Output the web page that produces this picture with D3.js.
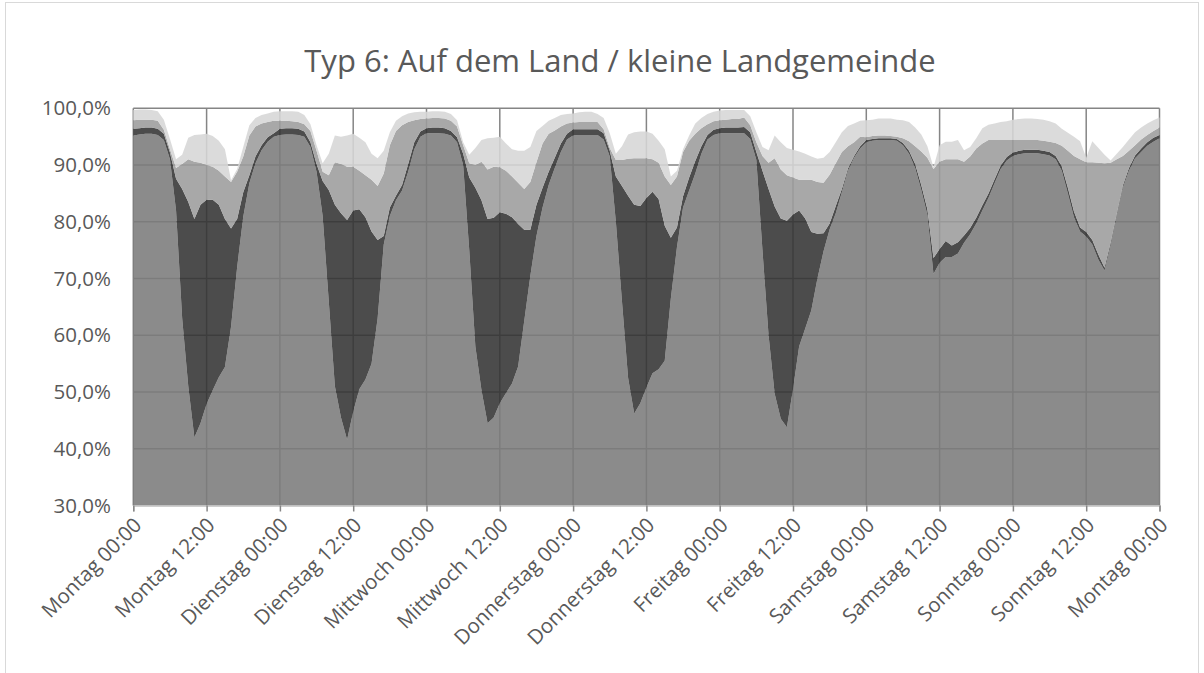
<!DOCTYPE html>
<html lang="de">
<head>
<meta charset="utf-8"/>
<title>Typ 6: Auf dem Land / kleine Landgemeinde</title>
<script src="https://d3js.org/d3.v7.min.js"></script>
<style>
body { margin: 0; background: #fff; }
.title { font-family: "Open Sans", sans-serif; font-size: 31px; fill: #595959; }
.lbl { font-family: "Open Sans", sans-serif; font-size: 20.5px; fill: #595959; }
.grid { stroke: #858585; stroke-width: 1.5; }
</style>
</head>
<body>
<div id="chart"></div>
<script>
// Achsenbeschriftung (alle 12 Stunden)
var tickLabels = ["Montag 00:00", "Montag 12:00", "Dienstag 00:00", "Dienstag 12:00",
  "Mittwoch 00:00", "Mittwoch 12:00", "Donnerstag 00:00", "Donnerstag 12:00",
  "Freitag 00:00", "Freitag 12:00", "Samstag 00:00", "Samstag 12:00",
  "Sonntag 00:00", "Sonntag 12:00", "Montag 00:00"];
var yTicks = [30, 40, 50, 60, 70, 80, 90, 100];

// stündliche Werte Mo 00:00 .. Mo 00:00, kumulierte Obergrenze jeder Fläche in %
var stufe1 = [
  95.2,95.4,95.5,95.5,95.3,94.4,91.0,82.0,63.0,51.0,42.0,44.5,47.9,50.3,52.6,54.4,61.5,72.0,80.9,86.8,90.3,92.6,94.1,95.0,
  95.3,95.4,95.4,95.3,95.0,93.2,88.8,81.0,66.0,51.0,45.5,41.6,46.5,50.5,52.2,55.0,63.0,76.0,81.0,83.8,85.5,88.8,92.8,95.0,
  95.6,95.6,95.6,95.5,95.2,94.0,90.0,75.0,58.0,50.3,44.5,45.5,48.0,49.8,51.5,54.5,62.5,70.5,77.5,82.5,86.5,89.5,92.3,94.5,
  95.2,95.3,95.3,95.3,95.3,94.5,91.5,80.0,66.0,52.5,46.2,48.0,50.8,53.3,54.0,55.5,66.5,75.5,82.5,85.5,88.5,92.0,94.5,95.3,
  95.6,95.6,95.6,95.6,95.6,94.6,90.9,75.0,60.0,49.7,45.3,43.8,50.5,58.0,61.2,64.4,70.0,74.8,78.7,81.5,85.2,89.0,91.3,92.9,
  94.0,94.3,94.4,94.4,94.4,94.3,93.5,92.0,89.5,85.6,81.2,70.8,72.8,73.8,73.8,74.4,76.3,77.8,79.7,82.0,84.2,86.8,89.3,90.8,
  91.6,91.9,92.1,92.1,92.1,91.9,91.7,91.0,89.0,85.0,80.8,78.3,77.4,76.0,73.3,71.4,75.8,81.0,86.0,89.0,91.2,92.3,93.4,94.1,
  94.7];
var stufe2 = [
  96.4,96.5,96.6,96.6,96.4,95.5,92.2,87.6,85.8,83.5,80.5,83.0,83.9,83.9,83.0,80.5,78.8,80.5,85.2,88.2,91.5,93.5,94.9,95.6,
  96.4,96.5,96.5,96.4,95.9,94.0,90.2,87.2,85.6,83.0,81.5,80.3,82.0,82.2,80.8,78.3,76.8,77.5,82.5,84.6,86.5,90.2,94.0,95.9,
  96.5,96.6,96.6,96.5,96.0,94.9,92.0,87.8,86.0,83.8,80.5,80.7,81.7,81.4,80.8,79.6,78.6,78.6,83.0,86.0,88.8,91.3,93.8,95.5,
  96.3,96.3,96.3,96.3,96.3,95.6,92.5,88.0,86.3,84.6,83.0,82.8,84.2,85.3,84.0,79.3,77.2,79.0,84.5,87.8,90.7,93.3,95.3,96.2,
  96.5,96.6,96.6,96.6,96.7,95.8,92.3,89.0,85.8,82.7,80.6,80.2,81.3,82.0,80.6,78.2,77.9,78.0,79.7,82.8,85.8,89.4,91.6,93.3,
  94.4,94.6,94.7,94.7,94.7,94.6,93.9,92.5,90.2,86.5,82.2,73.6,75.2,76.6,75.8,76.4,77.6,78.9,80.7,82.9,85.0,87.5,89.9,91.4,
  92.2,92.5,92.7,92.7,92.7,92.5,92.3,91.6,89.8,86.0,81.8,79.0,78.2,76.8,74.2,71.9,76.3,81.4,86.4,89.5,91.7,92.9,94.0,94.8,
  95.3];
var stufe3 = [
  97.9,98.0,98.0,98.0,97.8,96.2,92.8,89.5,90.2,91.0,90.6,90.4,90.0,89.7,89.0,88.0,87.0,88.8,91.5,95.2,96.8,97.3,97.6,97.8,
  97.8,97.8,97.7,97.6,97.2,96.0,92.5,88.8,88.2,90.5,90.2,89.7,89.7,89.0,88.2,87.4,86.3,88.5,93.5,96.0,97.0,97.6,97.9,98.1,
  98.2,98.3,98.3,98.2,97.8,96.8,93.5,90.3,90.0,90.6,89.2,89.7,89.6,89.0,88.0,86.9,85.8,87.0,90.5,93.8,95.5,96.1,96.8,97.3,
  97.5,97.6,97.6,97.6,97.6,96.3,93.0,90.9,90.9,91.1,91.2,91.2,91.2,91.0,90.4,88.0,86.5,88.0,92.3,94.3,95.5,96.5,97.2,97.7,
  97.9,98.0,98.1,98.1,98.4,97.0,94.0,91.6,90.4,91.2,89.2,88.2,87.8,87.4,87.4,87.4,87.0,86.9,88.3,90.3,92.3,93.3,94.0,95.0,
  94.9,95.1,95.2,95.2,95.1,95.0,94.7,94.2,93.3,92.4,91.3,89.3,90.6,91.0,91.0,91.0,90.6,91.5,92.9,93.8,94.4,94.4,94.4,94.4,
  94.4,94.4,94.4,94.4,94.4,94.3,94.1,93.9,93.4,92.5,91.6,91.0,90.5,90.5,90.4,90.3,90.4,91.0,91.6,92.5,93.5,94.5,95.3,96.0,
  96.6];
var stufe4 = [
  99.7,99.8,99.8,99.7,99.5,98.0,94.6,91.0,91.8,94.8,95.3,95.4,95.5,95.1,94.3,92.8,87.3,89.3,93.2,97.0,98.3,98.8,99.1,99.4,
  99.5,99.5,99.5,99.4,98.8,97.2,93.5,90.3,92.0,95.2,95.0,95.2,95.5,94.8,94.0,92.0,91.2,92.5,95.8,97.8,98.6,99.1,99.3,99.4,
  99.4,99.5,99.5,99.4,99.0,97.9,94.0,91.8,93.0,94.4,94.7,94.8,95.0,93.8,92.8,92.5,92.5,93.2,96.0,96.9,97.8,98.3,98.8,99.0,
  99.1,99.3,99.4,99.4,99.0,98.3,95.6,92.0,93.3,95.4,95.8,95.9,95.9,95.5,94.3,92.8,88.0,89.0,92.8,95.2,97.3,98.3,99.0,99.4,
  99.6,99.7,99.7,99.7,99.7,98.6,95.8,93.2,92.6,95.2,94.0,93.0,92.7,92.4,92.0,91.5,91.1,91.3,92.3,94.0,95.8,96.9,97.3,97.8,
  97.9,98.0,98.2,98.2,98.2,98.0,97.9,97.6,96.6,95.4,93.3,89.6,93.5,94.1,94.1,94.4,92.6,93.2,94.7,96.5,97.1,97.3,97.6,97.7,
  98.0,98.1,98.2,98.2,98.1,98.0,97.7,97.3,96.4,95.7,95.0,94.2,91.3,94.2,93.0,91.8,90.8,92.0,93.2,94.5,95.8,96.6,97.3,97.9,
  98.4];

var w = 1204, h = 673;
var plotL = 133.3, plotR = 1159.5, plotT = 108.3, plotB = 505.5;

var svg = d3.select("#chart").append("svg")
  .attr("width", w)
  .attr("height", h);

// Rahmen des Diagrammbereichs
svg.append("rect")
  .attr("x", 5.5).attr("y", 2.5)
  .attr("width", w - 11).attr("height", h + 10)
  .attr("fill", "none")
  .attr("stroke", "#d9d9d9");

var xScale = d3.scaleLinear().domain([0, 168]).range([plotL, plotR]);
var yScale = d3.scaleLinear().domain([30, 100]).range([plotB, plotT]);

// Gitternetz (hinter den Flächen)
svg.append("g").selectAll("line")
  .data(yTicks.slice(1))
  .enter().append("line")
  .attr("class", "grid")
  .attr("x1", plotL).attr("x2", plotR)
  .attr("y1", function(d){ return yScale(d); })
  .attr("y2", function(d){ return yScale(d); });

var xTicks = d3.range(0, 169, 12);
svg.append("g").selectAll("line")
  .data(xTicks)
  .enter().append("line")
  .attr("class", "grid")
  .attr("x1", function(d){ return xScale(d); })
  .attr("x2", function(d){ return xScale(d); })
  .attr("y1", plotT).attr("y2", plotB);

// Flächen, jeweils zwischen zwei Grenzen
var grenzen = [null, stufe1, stufe2, stufe3, stufe4];
var farben = ["#7b7b7b", "#333333", "#9c9c9c", "#d6d6d6"];

grenzen.slice(1).forEach(function(oben, k) {
  var unten = grenzen[k];
  var area = d3.area()
    .x(function(d, i){ return xScale(i); })
    .y0(function(d, i){ return unten ? yScale(unten[i]) : yScale(30); })
    .y1(function(d){ return yScale(d); });
  svg.append("path")
    .datum(oben)
    .attr("fill", farben[k])
    .attr("fill-opacity", 0.88)
    .attr("d", area);
});

// x-Achse
var xAxis = d3.axisBottom(xScale)
  .tickValues(xTicks)
  .tickSize(6)
  .tickFormat(function(d, i){ return tickLabels[i]; });

var gx = svg.append("g")
  .attr("transform", "translate(0," + plotB + ")")
  .call(xAxis);
gx.select(".domain").attr("stroke", "#bfbfbf").attr("stroke-width", 1.5);
gx.selectAll(".tick line").attr("stroke", "#868686").attr("stroke-width", 1.5);
gx.selectAll(".tick text")
  .attr("class", "lbl")
  .attr("fill", null)
  .attr("text-anchor", "end")
  .attr("dy", null)
  .attr("y", 0)
  .attr("x", 0)
  .attr("transform", "translate(9,21) rotate(-45)");

// y-Achse (nur Beschriftung)
svg.append("g").selectAll("text")
  .data(yTicks)
  .enter().append("text")
  .attr("class", "lbl")
  .attr("x", 111)
  .attr("y", function(d){ return yScale(d); })
  .attr("dy", "0.35em")
  .attr("text-anchor", "end")
  .text(function(d){ return d3.format(".1f")(d).replace(".", ",") + "%"; });

// Titel
svg.append("text")
  .attr("class", "title")
  .attr("x", 620)
  .attr("y", 72)
  .attr("text-anchor", "middle")
  .text("Typ 6: Auf dem Land / kleine Landgemeinde");
</script>
</body>
</html>
